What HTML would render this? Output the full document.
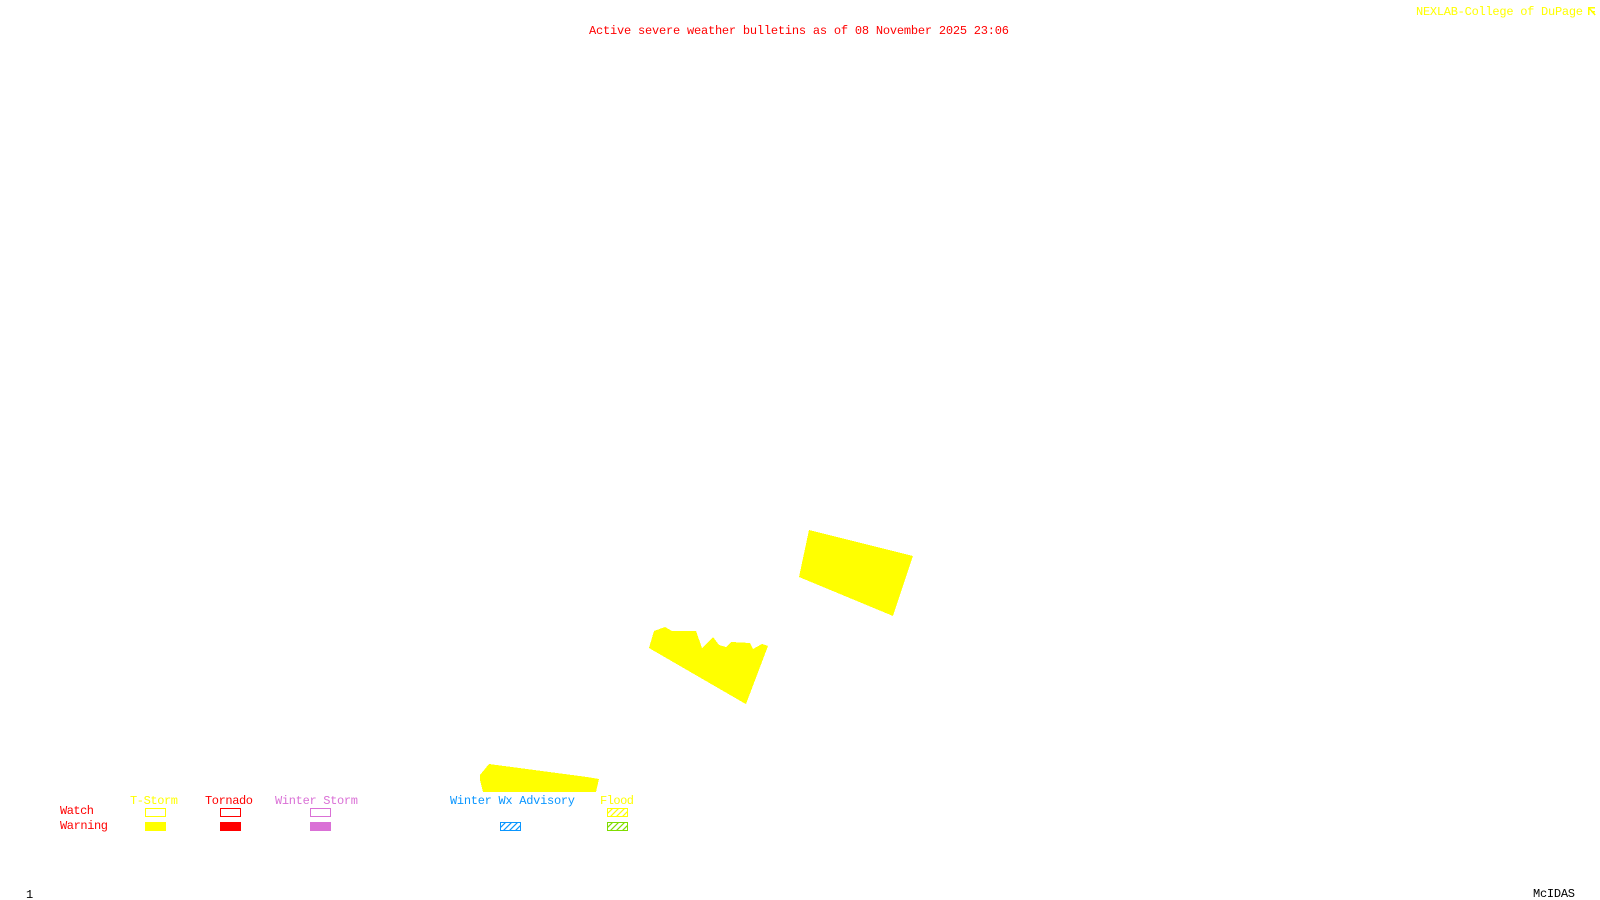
<!DOCTYPE html>
<html>
<head>
<meta charset="utf-8">
<style>
html,body{margin:0;padding:0;background:#fff;width:1600px;height:900px;overflow:hidden}
svg{display:block}
text{font-family:"Liberation Mono","DejaVu Sans Mono",monospace;font-size:12px}
</style>
</head>
<body>
<svg width="1600" height="900" viewBox="0 0 1600 900" xmlns="http://www.w3.org/2000/svg">
<defs>
<pattern id="hy" width="6" height="6" patternUnits="userSpaceOnUse" patternTransform="translate(607 808)"><path d="M-1 7L7 -1M-1 1L1 -1M5 7L7 5" stroke="#ffff00" stroke-width="1.2"/></pattern>
<pattern id="hb" width="6" height="6" patternUnits="userSpaceOnUse" patternTransform="translate(500 822)"><path d="M-1 7L7 -1M-1 1L1 -1M5 7L7 5" stroke="#0a96ff" stroke-width="1.2"/></pattern>
<pattern id="hg" width="6" height="6" patternUnits="userSpaceOnUse" patternTransform="translate(607 822)"><path d="M-1 7L7 -1M-1 1L1 -1M5 7L7 5" stroke="#7fdc00" stroke-width="1.2"/></pattern>
</defs>
<rect width="1600" height="900" fill="#fff"/>

<g fill="#ffff00" shape-rendering="crispEdges">
<polygon points="809,530 913,556 893,616 799,577"/>
<polygon points="649,648 654,631 665,627 672,631 696,631 702,648 713,637 719,645 726,647 731,642 750,643 753,649 762,644 768,646 746,704 744,703"/>
<polygon points="489,764 480,775 480,780 483,792 596,792 599,779 587,777"/>
</g>

<text x="589" y="34" fill="#ff0000" textLength="420">Active severe weather bulletins as of 08 November 2025 23:06</text>
<text x="1416" y="15" fill="#ffff00" textLength="167">NEXLAB-College of DuPage</text>
<path d="M1588.5 15V7.5H1595M1588.5 7.5L1595 15M1592 11.5H1595" fill="none" stroke="#ffff00" stroke-width="1.5" shape-rendering="crispEdges"/>

<text x="130" y="804" fill="#ffff00" textLength="48">T-Storm</text>
<text x="205" y="804" fill="#ff0000" textLength="48">Tornado</text>
<text x="275" y="804" fill="#da70d6" textLength="83">Winter Storm</text>
<text x="450" y="804" fill="#0a96ff" textLength="125">Winter Wx Advisory</text>
<text x="600" y="804" fill="#ffff00" textLength="34">Flood</text>
<text x="60" y="814" fill="#ff0000" textLength="34">Watch</text>
<text x="60" y="829" fill="#ff0000" textLength="48">Warning</text>

<g fill="none" shape-rendering="crispEdges">
<rect x="145.5" y="808.5" width="20" height="8" stroke="#ffff00"/>
<rect x="220.5" y="808.5" width="20" height="8" stroke="#ff0000"/>
<rect x="310.5" y="808.5" width="20" height="8" stroke="#da70d6"/>
</g>
<rect x="145" y="822" width="21" height="9" fill="#ffff00"/>
<rect x="220" y="822" width="21" height="9" fill="#ff0000"/>
<rect x="310" y="822" width="21" height="9" fill="#da70d6"/>

<rect x="607.5" y="808.5" width="20" height="8" fill="url(#hy)" stroke="#ffff00"/>
<rect x="500.5" y="822.5" width="20" height="8" fill="url(#hb)" stroke="#0a96ff"/>
<rect x="607.5" y="822.5" width="20" height="8" fill="url(#hg)" stroke="#7fdc00"/>

<text x="26" y="898" fill="#000000" textLength="7">1</text>
<text x="1533" y="897" fill="#000000" textLength="42">McIDAS</text>
</svg>
</body>
</html>
